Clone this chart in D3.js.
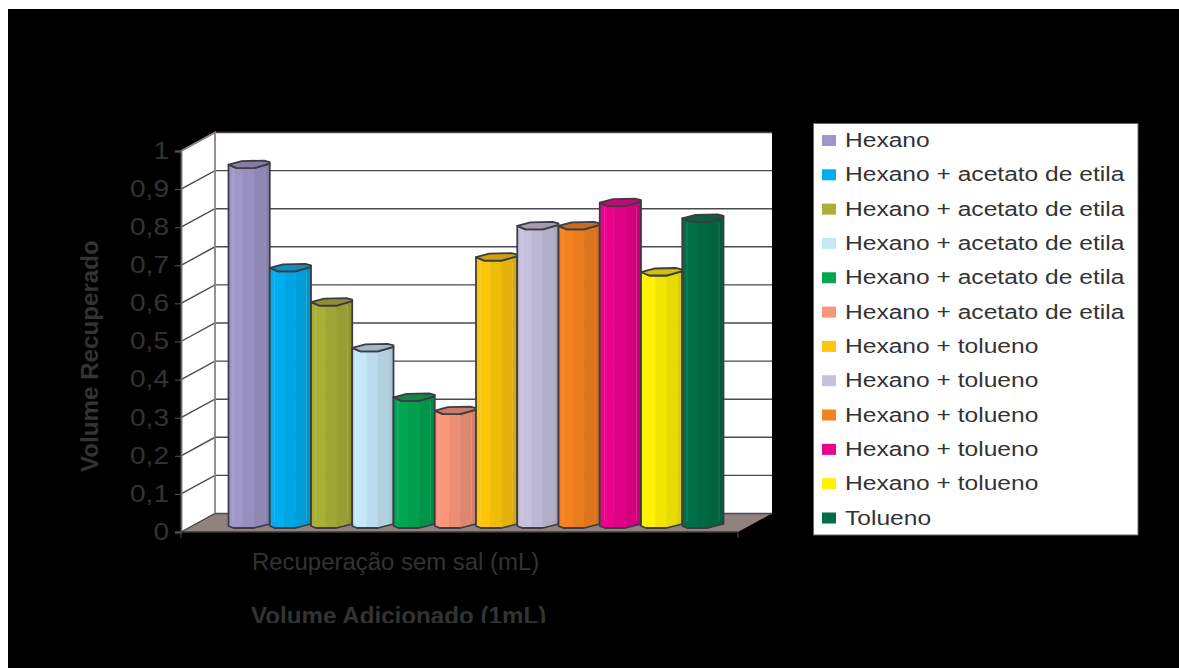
<!DOCTYPE html>
<html>
<head>
<meta charset="utf-8">
<script src="https://cdn.jsdelivr.net/npm/d3@7/dist/d3.min.js"></script>
<style>
html,body{margin:0;padding:0;background:#fff;overflow:hidden}
svg{display:block}
text{font-family:"Liberation Sans",Arial,sans-serif;fill:#333}
</style>
</head>
<body>
<svg id="chart" width="1179" height="668"></svg>
<script>
// Recovered volume per solvent system
const seriesNames = ["Hexano","Hexano + acetato de etila","Hexano + acetato de etila","Hexano + acetato de etila","Hexano + acetato de etila","Hexano + acetato de etila","Hexano + tolueno","Hexano + tolueno","Hexano + tolueno","Hexano + tolueno","Hexano + tolueno","Tolueno"];
const seriesValues = [0.946,0.675,0.585,0.465,0.335,0.30,0.703,0.785,0.785,0.846,0.664,0.805];
const seriesColors = ["#9f97c9","#00aeef","#a9b037","#c5e8f8","#00a651","#f7967a","#fdc60b","#c6c2de","#f58220","#ec008c","#fff200","#006f46"];
const tickValues = [0,0.1,0.2,0.3,0.4,0.5,0.6,0.7,0.8,0.9,1];
const tickLabels = ["0","0,1","0,2","0,3","0,4","0,5","0,6","0,7","0,8","0,9","1"];
const categoryLabel = "Recuperação sem sal (mL)";
const xTitle = "Volume Adicionado (1mL)";
const yTitle = "Volume Recuperado";

const svg = d3.select("#chart");
const wallColor = "#8f827e", lineColor = "#4a4a50";

// Widen a text run horizontally, as the stretched chart object does
function stretch(sel, k) {
  sel.each(function () {
    const t = d3.select(this);
    t.attr("textLength", this.getComputedTextLength() * k).attr("lengthAdjust", "spacingAndGlyphs");
  });
}

svg.append("rect").attr("x", 8).attr("y", 9).attr("width", 1171).attr("height", 659).attr("fill", "#000");

// Oblique projection: front plane, back wall and the plane the columns stand in
const depth = { dx: 34, dy: -18.5 };
const yFront = d3.scaleLinear().domain([0, 1]).range([532, 151]);
const yBack = v => yFront(v) + depth.dy;
const yBar = v => yFront(v) - 7;
const frontLeft = 181, frontRight = 738;
const backLeft = frontLeft + depth.dx, backRight = frontRight + depth.dx;
const line = d3.line();

// Walls and floor
svg.append("path")
  .attr("d", line([[frontLeft, yFront(1)], [backLeft, yBack(1)], [backLeft, yBack(0)], [frontLeft, yFront(0)]]) + "Z")
  .attr("fill", "#fff");
svg.append("rect")
  .attr("x", backLeft).attr("y", yBack(1))
  .attr("width", backRight - backLeft).attr("height", yBack(0) - yBack(1))
  .attr("fill", "#fff");
svg.append("path")
  .attr("d", line([[frontLeft, yFront(0)], [backLeft, yBack(0)], [backRight, yBack(0)], [frontRight, yFront(0)]]) + "Z")
  .attr("fill", wallColor);

// Gridlines run along the side wall, then across the back wall
const grid = svg.append("g").attr("fill", "none").attr("stroke", lineColor).attr("stroke-width", 1.4);
tickValues.forEach(v => {
  grid.append("path").attr("d", line([[frontLeft, yFront(v)], [backLeft, yBack(v)], [backRight, yBack(v)]]));
});
svg.append("path")
  .attr("d", line([[frontLeft, yFront(1)], [backLeft, yBack(1)], [backLeft, yBack(0)]]))
  .attr("fill", "none").attr("stroke", wallColor).attr("stroke-width", 1.8);

// Value axis on the front plane
const yAxis = svg.append("g")
  .attr("transform", `translate(${frontLeft},0)`)
  .call(d3.axisLeft(yFront).tickValues(tickValues).tickSize(6).tickPadding(6)
    .tickFormat(v => tickLabels[tickValues.indexOf(v)]));
yAxis.selectAll("line").attr("stroke", "#555");
yAxis.select(".domain").attr("stroke", "#6a6a6a").attr("stroke-width", 1.8);
yAxis.selectAll("text").attr("font-size", 23).attr("fill", "#333").style("font-family", '"Liberation Sans",Arial,sans-serif');
stretch(yAxis.selectAll("text"), 1.22);

// Category axis baseline
const xAxisLine = svg.append("g").attr("fill", "none").attr("stroke", "#3a3a3a").attr("stroke-width", 1.4);
xAxisLine.append("path").attr("d", line([[frontLeft, yFront(0)], [frontRight, yFront(0)]]));
xAxisLine.append("path").attr("d", line([[frontLeft, yFront(0)], [frontLeft, yFront(0) + 6]]));
xAxisLine.append("path").attr("d", line([[frontRight, yFront(0)], [frontRight, yFront(0) + 6]]));

// Faceted columns
const xBand = d3.scaleBand().domain(d3.range(seriesValues.length)).range([228.5, 723.5]);
const bars = svg.append("g").selectAll("g").data(seriesValues).join("g");
bars.each(function (v, i) {
  const g = d3.select(this);
  const x0 = xBand(i), w = xBand.bandwidth(), x1 = x0 + w;
  const c = d3.color(seriesColors[i]);
  const yT = yBar(v), yB = yBar(0);
  const bottom = [[x1, yB - 1], [x0 + 0.62 * w, yB + 3], [x0 + 0.12 * w, yB + 3], [x0, yB + 1]];
  const frontTop = [[x0, yT], [x0 + 0.2 * w, yT + 3.5], [x0 + 0.62 * w, yT + 3.5], [x1, yT - 1]];
  const clipId = "col" + i;
  g.append("clipPath").attr("id", clipId).append("path")
    .attr("d", line([...frontTop, ...bottom]) + "Z");
  const body = g.append("g").attr("clip-path", `url(#${clipId})`);
  const bands = [[0, 0.35, 1], [0.35, 0.62, 0.95], [0.62, 0.88, 0.9], [0.88, 1, 0.85]];
  bands.forEach(([a, b, s]) => {
    body.append("rect")
      .attr("x", x0 + a * w).attr("y", yT - 6)
      .attr("width", (b - a) * w + 0.5).attr("height", yB - yT + 12)
      .attr("fill", d3.rgb(c.r * s, c.g * s, c.b * s));
  });
  // Thin highlights near the column edges
  [0.1, 0.88].forEach(p => {
    body.append("rect")
      .attr("x", x0 + p * w).attr("y", yT + 4)
      .attr("width", 1).attr("height", yB - yT - 8)
      .attr("fill", "#fff").attr("opacity", 0.15);
  });
  g.append("path")
    .attr("d", line([...frontTop, ...bottom]) + "Z")
    .attr("fill", "none").attr("stroke", "#3c3c44").attr("stroke-width", 1.8).attr("stroke-linejoin", "round");
  // Top cap
  const cap = [[x0, yT], [x0 + 0.32 * w, yT - 3.5], [x0 + 0.86 * w, yT - 4], [x1, yT - 2.5], [x1, yT - 1],
    [x0 + 0.62 * w, yT + 3.5], [x0 + 0.2 * w, yT + 3.5]];
  g.append("path")
    .attr("d", line(cap) + "Z")
    .attr("fill", d3.rgb(c.r * 0.75 + 16, c.g * 0.75 + 10, c.b * 0.75 + 10))
    .attr("stroke", "#3c3c44").attr("stroke-width", 1.8).attr("stroke-linejoin", "round");
});

// Axis captions
svg.append("text").attr("x", 252).attr("y", 570).attr("font-size", 23).text(categoryLabel).call(stretch, 1.04);
svg.append("clipPath").attr("id", "titleClip").append("rect").attr("x", 8).attr("y", 590).attr("width", 800).attr("height", 33);
svg.append("g").attr("clip-path", "url(#titleClip)")
  .append("text").attr("x", 251).attr("y", 624).attr("font-size", 23).attr("font-weight", "bold").text(xTitle).call(stretch, 1.05);
svg.append("text").attr("transform", "translate(98,472) rotate(-90)").attr("font-size", 23).attr("font-weight", "bold").text(yTitle).call(stretch, 1.05);

// Legend
const legendY = d3.scalePoint().domain(d3.range(seriesNames.length)).range([140.5, 518]);
svg.append("rect").attr("x", 813.5).attr("y", 123.5).attr("width", 324.5).attr("height", 411.5)
  .attr("fill", "#fff").attr("stroke", "#666").attr("stroke-width", 1);
const legend = svg.append("g").selectAll("g").data(seriesNames).join("g")
  .attr("transform", (d, i) => `translate(0,${legendY(i)})`);
legend.append("rect").attr("x", 822).attr("y", -5.5).attr("width", 14).attr("height", 11).attr("fill", (d, i) => seriesColors[i]);
legend.append("text").attr("x", 845).attr("y", 6.5).attr("font-size", 19.5).text(d => d).call(stretch, 1.26);
</script>
</body>
</html>
